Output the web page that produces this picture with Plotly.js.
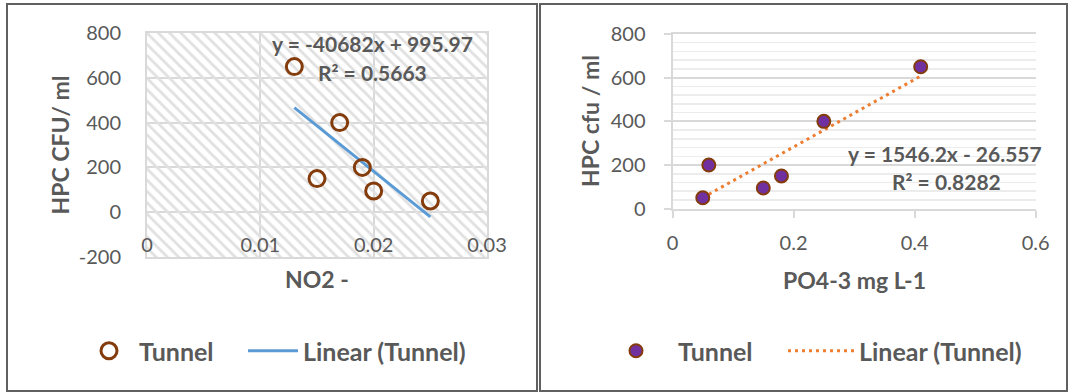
<!DOCTYPE html>
<html>
<head>
<meta charset="utf-8">
<script src="https://cdn.plot.ly/plotly-3.0.1.min.js"></script>
<style>html,body{margin:0;padding:0;background:#fff;}#chart{width:1070px;height:392px;}</style>
</head>
<body>
<div id="chart"></div>
<script>
// ---- data ----
const hpc = [650, 400, 150, 200, 95, 50];          // HPC cfu / ml
const no2 = [0.013, 0.017, 0.015, 0.019, 0.020, 0.025];
const po4 = [0.41, 0.25, 0.18, 0.06, 0.15, 0.05];
const fitNO2 = [-40682, 995.97];   // slope, intercept (Excel trendline)
const fitPO4 = [1546.2, -26.557];
const eqNO2 = ['y = -40682x + 995.97', 'R² = 0.5663'];
const eqPO4 = ['y = 1546.2x - 26.557', 'R² = 0.8282'];
const xTicksNO2 = [0, 0.01, 0.02, 0.03];
const xTickTextNO2 = ['0', '0.01', '0.02', '0.03'];
const yTicksL = [-200, 0, 200, 400, 600, 800];
const yTickTextL = ['-200', '0', '200', '400', '600', '800'];
const xTicksPO4 = [0, 0.2, 0.4, 0.6];
const xTickTextPO4 = ['0', '0.2', '0.4', '0.6'];
const yTicksR = [0, 200, 400, 600, 800];
const seriesName = 'Tunnel';
const trendName = 'Linear (Tunnel)';
const titles = {yL: 'HPC CFU/ ml', xL: 'NO2 -', yR: 'HPC cfu / ml', xR: 'PO4-3 mg L-1'};

// ---- layout helpers ----
const W = 1070, H = 392;
const px = v => v / W;
const py = v => 1 - v / H;
const FONT = 'Lato, "Open Sans", sans-serif';
const TXT = '#595959';
const GRID = '#d9d9d9';
const rangeXL = [0, 0.03], rangeYL = [-200, 800];
const rangeXR = [0, 0.6], rangeYR = [0, 800];

function fitLine(xs, fit) {
  const x0 = Math.min(...xs), x1 = Math.max(...xs);
  return {x: [x0, x1], y: [fit[0] * x0 + fit[1], fit[0] * x1 + fit[1]]};
}
const tlL = fitLine(no2, fitNO2);
const tlR = fitLine(po4, fitPO4);

const traces = [
  { // hatched plot-area background
    x: [rangeXL[0], rangeXL[1], rangeXL[1], rangeXL[0], rangeXL[0]],
    y: [rangeYL[0], rangeYL[0], rangeYL[1], rangeYL[1], rangeYL[0]],
    xaxis: 'x', yaxis: 'y', mode: 'lines', line: {width: 0},
    fill: 'toself', fillcolor: 'rgba(0,0,0,0)',
    fillpattern: {shape: '\\', fgcolor: '#e0e0e0', bgcolor: 'rgba(0,0,0,0)', size: 8, solidity: 0.35},
    showlegend: false, hoverinfo: 'skip'
  },
  {
    x: tlL.x, y: tlL.y, xaxis: 'x', yaxis: 'y', mode: 'lines', name: trendName,
    line: {color: '#5B9BD5', width: 3}, legend: 'legend2', hoverinfo: 'skip'
  },
  {
    x: no2, y: hpc, xaxis: 'x', yaxis: 'y', mode: 'markers', name: seriesName,
    marker: {symbol: 'circle-open', size: 16, color: '#843C0C', line: {width: 3, color: '#843C0C'}},
    legend: 'legend'
  },
  {
    x: tlR.x, y: tlR.y, xaxis: 'x2', yaxis: 'y2', mode: 'lines', name: trendName,
    line: {color: '#ED7D31', width: 3, dash: '3px,4px'}, legend: 'legend4', hoverinfo: 'skip'
  },
  {
    x: po4, y: hpc, xaxis: 'x2', yaxis: 'y2', mode: 'markers', name: seriesName,
    marker: {symbol: 'circle', size: 13, color: '#7030A0', line: {width: 2, color: '#843C0C'}},
    legend: 'legend3'
  }
];

const tickFont = {family: FONT, size: 20, color: TXT};
const boldFont = (s) => ({family: FONT, size: s, color: TXT, weight: 'bold'});

function legendAt(xPix, yPix, iw) {
  return {x: px(xPix), y: py(yPix), xanchor: 'left', yanchor: 'middle', orientation: 'h',
    bgcolor: 'rgba(0,0,0,0)', borderwidth: 0, itemwidth: iw || 30,
    font: boldFont(25)};
}

const layout = {
  width: W, height: H,
  margin: {l: 0, r: 0, t: 0, b: 0},
  paper_bgcolor: '#ffffff', plot_bgcolor: '#ffffff',
  font: {family: FONT, color: TXT},
  showlegend: true,
  xaxis: {
    domain: [px(147), px(487)], anchor: 'y', range: rangeXL,
    tickvals: xTicksNO2, ticktext: xTickTextNO2, tickfont: tickFont, ticks: '',
    ticklabelstandoff: -31,
    showgrid: true, gridcolor: GRID, gridwidth: 2, zeroline: false,
    showline: true, mirror: true, linecolor: GRID, linewidth: 2
  },
  yaxis: {
    domain: [py(257), py(33)], anchor: 'x', range: rangeYL,
    tickvals: yTicksL, ticktext: yTickTextL, tickfont: tickFont, ticks: '', ticklabelstandoff: 20,
    showgrid: true, gridcolor: GRID, gridwidth: 2, zeroline: false,
    showline: true, mirror: true, linecolor: GRID, linewidth: 2
  },
  xaxis2: {
    domain: [px(672.5), px(1035.7)], anchor: 'y2', range: rangeXR,
    tickvals: xTicksPO4, ticktext: xTickTextPO4, tickfont: tickFont,
    ticks: 'outside', ticklen: 7, tickwidth: 2, tickcolor: GRID, ticklabelstandoff: 8,
    showgrid: false, zeroline: false,
    showline: true, mirror: true, linecolor: GRID, linewidth: 2
  },
  yaxis2: {
    domain: [py(208.7), py(34)], anchor: 'x2', range: rangeYR,
    tickvals: yTicksR, tickfont: tickFont,
    ticks: 'outside', ticklen: 7, tickwidth: 2, tickcolor: GRID, ticklabelstandoff: 14,
    showgrid: true, gridcolor: GRID, gridwidth: 2, zeroline: false,
    minor: {dtick: 40, showgrid: true, gridcolor: '#ececec', gridwidth: 1.5, ticks: ''},
    showline: true, linecolor: GRID, linewidth: 2
  },
  legend: legendAt(79, 351, 50),
  legend2: legendAt(243, 351, 50),
  legend3: legendAt(594, 351, 74),
  legend4: legendAt(783, 351, 66),
  annotations: [
    {text: eqNO2[0], x: px(372), y: py(43), xref: 'paper', yref: 'paper', showarrow: false, font: boldFont(21), xanchor: 'center', yanchor: 'middle'},
    {text: eqNO2[1], x: px(372), y: py(72.5), xref: 'paper', yref: 'paper', showarrow: false, font: boldFont(21), xanchor: 'center', yanchor: 'middle'},
    {text: eqPO4[0], x: px(945), y: py(153.5), xref: 'paper', yref: 'paper', showarrow: false, font: boldFont(21), xanchor: 'center', yanchor: 'middle'},
    {text: eqPO4[1], x: px(946.5), y: py(181.5), xref: 'paper', yref: 'paper', showarrow: false, font: boldFont(21), xanchor: 'center', yanchor: 'middle'},
    {text: titles.yL, x: px(59.5), y: py(145), xref: 'paper', yref: 'paper', showarrow: false, textangle: -90, font: boldFont(23), xanchor: 'center', yanchor: 'middle'},
    {text: titles.xL, x: px(317), y: py(279), xref: 'paper', yref: 'paper', showarrow: false, font: boldFont(23), xanchor: 'center', yanchor: 'middle'},
    {text: titles.yR, x: px(590), y: py(121), xref: 'paper', yref: 'paper', showarrow: false, textangle: -90, font: boldFont(23), xanchor: 'center', yanchor: 'middle'},
    {text: titles.xR, x: px(854), y: py(280), xref: 'paper', yref: 'paper', showarrow: false, font: boldFont(23), xanchor: 'center', yanchor: 'middle'}
  ],
  shapes: [
    {type: 'rect', xref: 'paper', yref: 'paper', x0: px(7), x1: px(537), y0: py(391), y1: py(4), line: {color: '#606060', width: 2}},
    {type: 'rect', xref: 'paper', yref: 'paper', x0: px(540), x1: px(1067), y0: py(391), y1: py(4), line: {color: '#606060', width: 2}}
  ]
};

Plotly.newPlot('chart', traces, layout, {displayModeBar: false, staticPlot: true});
</script>
</body>
</html>
